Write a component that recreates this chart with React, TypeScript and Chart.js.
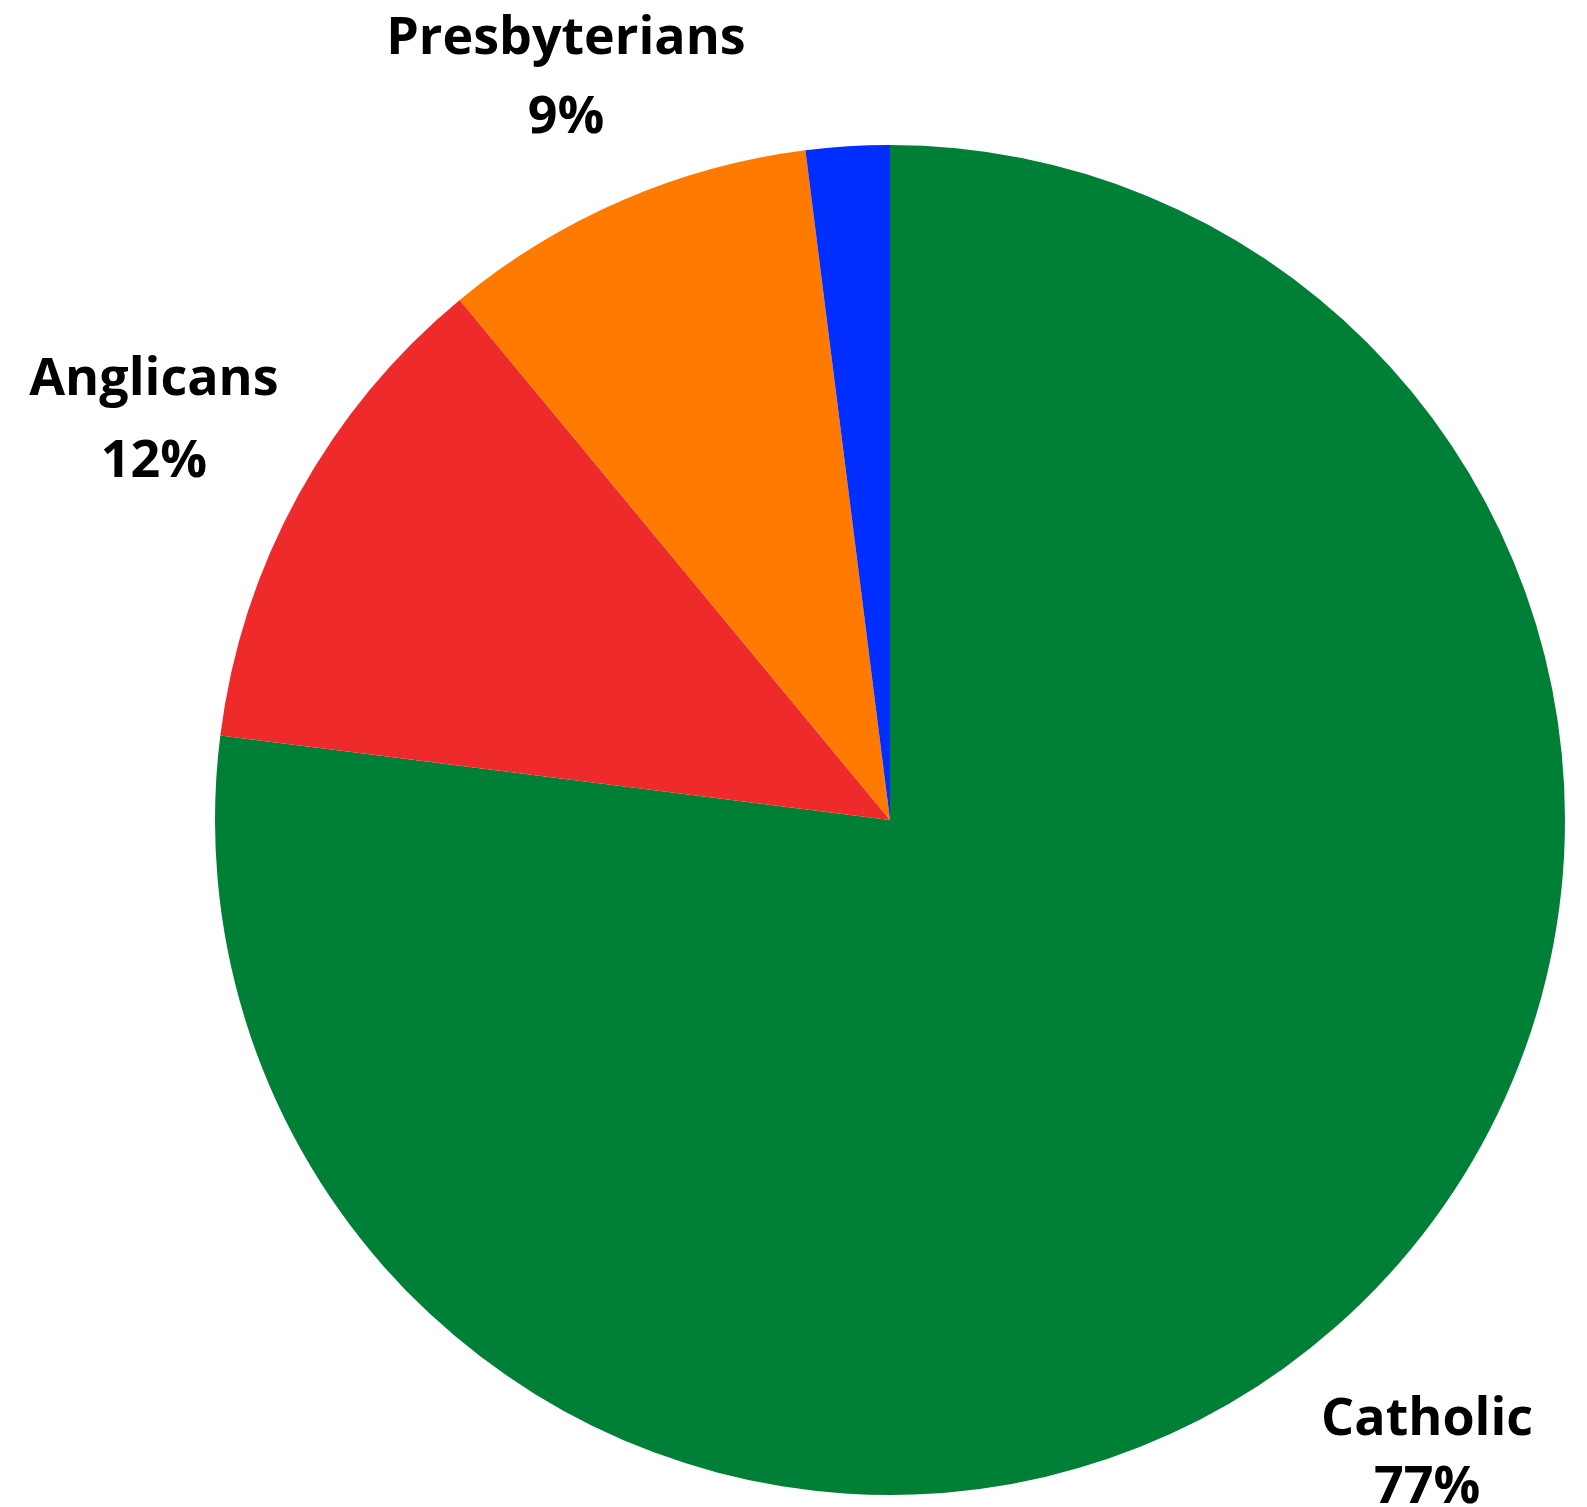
import React, { useEffect, useRef } from "react";
import { Chart, registerables } from "chart.js";

Chart.register(...registerables);

const categories = ["Catholic", "Anglicans", "Presbyterians", "Other"];
const shares = [77, 12, 9, 2];
const colors = ["#007F37", "#EE2A2B", "#FF7A00", "#002EFF"];
const showLabel = [true, true, true, false];

// label layout (relative to each slice's mid-angle and the pie radius)
const LABEL_LAYOUT = [
  { dist: 1.248, shiftDeg: 1.79, gap: 68 },
  { dist: 1.23, shiftDeg: -1.25, gap: 82 },
  { dist: 1.1785, shiftDeg: -0.64, gap: 79 },
  { dist: 1.2, shiftDeg: 0, gap: 76 },
];

const FONT = "bold 52px 'Open Sans', Roboto, sans-serif";

const labelPlugin = {
  id: "outerLabels",
  afterDraw(chart: any) {
    const ctx = chart.ctx;
    const meta = chart.getDatasetMeta(0);
    ctx.save();
    ctx.font = FONT;
    ctx.fillStyle = "#000000";
    ctx.textAlign = "center";
    ctx.textBaseline = "alphabetic";
    meta.data.forEach((arc: any, i: number) => {
      if (!showLabel[i]) return;
      const { x, y, startAngle, endAngle, outerRadius } = arc.getProps(
        ["x", "y", "startAngle", "endAngle", "outerRadius"],
        true
      );
      const lay = LABEL_LAYOUT[i];
      const mid = (startAngle + endAngle) / 2 + (lay.shiftDeg * Math.PI) / 180;
      const r = outerRadius * lay.dist;
      const cx = x + Math.cos(mid) * r;
      const cy = y + Math.sin(mid) * r;
      ctx.fillText(categories[i], cx, cy - lay.gap / 2);
      ctx.fillText(shares[i] + "%", cx, cy + lay.gap / 2);
    });
    ctx.restore();
  },
};

export default function App() {
  const ref = useRef<HTMLCanvasElement | null>(null);
  useEffect(() => {
    if (!ref.current) return;
    const chart = new Chart(ref.current, {
      type: "pie",
      data: {
        labels: categories,
        datasets: [
          {
            data: shares,
            backgroundColor: colors,
            borderWidth: 0,
            hoverOffset: 0,
          },
        ],
      },
      options: {
        responsive: false,
        animation: false,
        devicePixelRatio: 1,
        layout: { padding: { left: 215, right: 22, top: 145, bottom: 12 } },
        plugins: {
          legend: { display: false },
          tooltip: { enabled: false },
        },
      },
      plugins: [labelPlugin],
    });
    return () => chart.destroy();
  }, []);
  return (
    <div
      style={{
        position: "fixed",
        left: 0,
        top: 0,
        width: 1587,
        height: 1507,
        overflow: "hidden",
        background: "#ffffff",
      }}
    >
      <canvas ref={ref} width={1587} height={1507} style={{ width: 1587, height: 1507, display: "block" }} />
    </div>
  );
}
